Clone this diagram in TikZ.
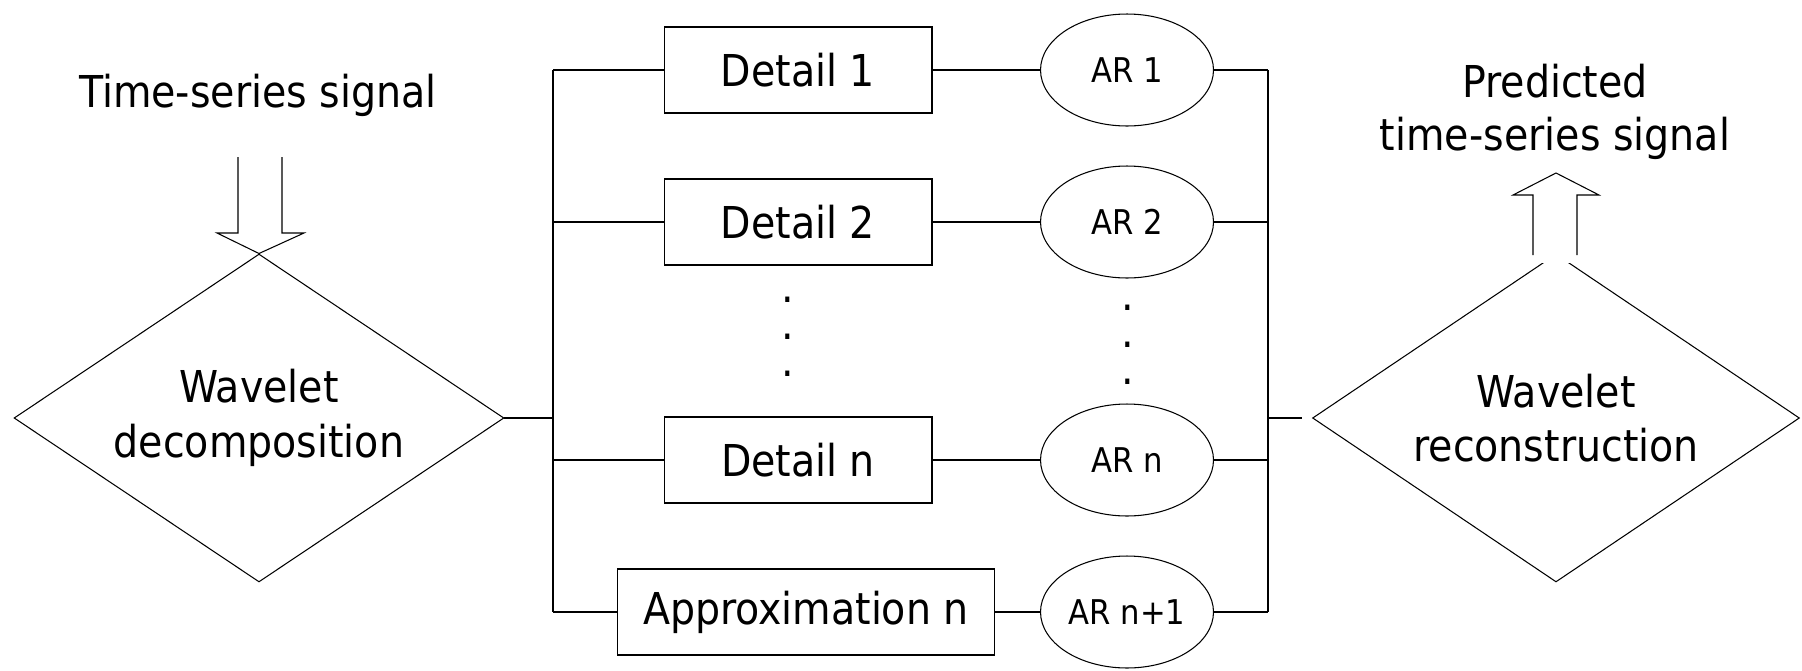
\documentclass[tikz,border=0pt]{standalone}
\usepackage{fontspec}
\setmainfont{DejaVu Sans Condensed}
\usetikzlibrary{shapes.geometric}

\tikzset{
  box/.style={draw,minimum width=5.36cm,minimum height=1.72cm,font=\fontsize{25}{30}\selectfont},
  model/.style={draw,ellipse,minimum width=3.46cm,minimum height=2.24cm,inner sep=0pt,font=\fontsize{19.4}{23}\selectfont},
  split/.style={draw,diamond,aspect=1.5,minimum width=9.8cm,minimum height=6.56cm,inner sep=0pt,align=center,font=\fontsize{25}{31}\selectfont},
  label/.style={align=center,font=\fontsize{25}{30}\selectfont},
  dots/.style={align=center,inner sep=0pt,font=\fontsize{25}{21}\selectfont}
}

\begin{document}
\begin{tikzpicture}[x=0.02cm,y=-0.02cm,line width=0.6pt]
\useasboundingbox (0,0) rectangle (1802,670);

\node[split] (dec) at (259,418) {Wavelet\\decomposition};
\node[split,minimum width=9.74cm] (rec) at (1556,418) {Wavelet\\reconstruction};

\node[label] (in) at (258,95) {Time-series signal};
\node[label] (out) at (1555,112) {Predicted\\time-series signal};

\foreach \t/\y [count=\n] in {Detail 1/70,Detail 2/222,Detail n/460}
   \node[box] (D\n) at (798,\y) {\t};
\node[box,minimum width=7.54cm] (D4) at (806,612) {Approximation n};

\foreach \t/\y [count=\n] in {AR 1/70,AR 2/222,AR n/460,AR n+1/612}
   \node[model] (A\n) at (1127,\y) {\t};

\node[dots] (ldots) at (788,337) {.\\.\\.};
\node[dots] (rdots) at (1128,345) {.\\.\\.};

\coordinate (L) at (553,418);
\coordinate (R) at (1268,418);
\coordinate (Rin) at (1302,418);

\draw (dec.east) -- (L);
\draw (L |- D1) -- (L |- D4);
\draw (R |- A1) -- (R |- A4);
\draw (R) -- (Rin);
\foreach \n in {1,...,4} {
   \draw (L |- D\n) -- (D\n.west);
   \draw (D\n) -- (A\n);
   \draw (A\n.east) -- (R |- A\n);
}

\draw (238,157) -- (238,233) -- (217,233) -- (dec.north) -- (304,233) -- (282,233) -- (282,157);

\fill[white] (1533,263) -- (1533,195) -- (1577,195) -- (1577,263) -- cycle;
\draw (1533,255) -- (1533,195) -- (1513,195) -- (1556,173) -- (1599,195) -- (1577,195) -- (1577,255);
\end{tikzpicture}
\end{document}
